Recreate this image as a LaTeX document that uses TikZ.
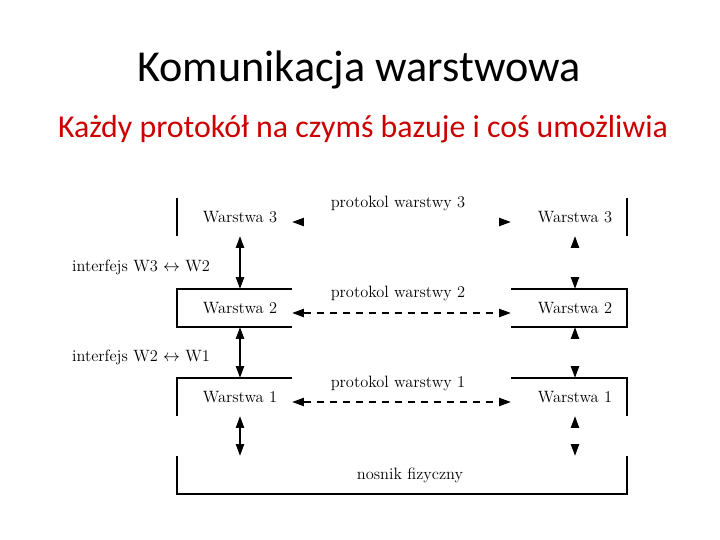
\documentclass[tikz,border=0pt]{standalone}
\usepackage{fontspec}
\newfontfamily\slidefont{Carlito}
\usetikzlibrary{arrows.meta,calc}
\definecolor{slidered}{RGB}{204,0,0}

\begin{document}
\begin{tikzpicture}[x=0.03cm, y=-0.03cm, >={Triangle[length=3.5mm,width=2.5mm]}, line cap=butt,
  layer/.style={inner sep=0pt, minimum height=1.14cm, font=\fontsize{14}{16}\selectfont},
  leftlayer/.style={layer, minimum width=3.12cm},
  rightlayer/.style={layer, minimum width=3.84cm},
  lbl/.style={inner sep=0pt, font=\fontsize{14}{16}\selectfont},
  edge/.style={line width=0.9pt},
  tipsonly/.style={line width=0.9pt, dash pattern=on 0pt off 30cm},
  protodash/.style={line width=0.9pt, dash pattern=on 0.21cm off 0.18cm}]

\useasboundingbox (0,0) rectangle (720,540);

% ---------- Slide title ----------
\node[anchor=base, font=\slidefont\fontsize{37.7}{45}\selectfont] (title) at (359,82) {Komunikacja warstwowa};
\node[anchor=base, text=slidered, font=\slidefont\fontsize{27.2}{33}\selectfont] (subtitle) at (363,138) {Każdy protokół na czymś bazuje i coś umożliwia};

% ---------- Layers ----------
\node[leftlayer] (L3) at (240,217) {Warstwa 3};
\node[leftlayer] (L2) at (240,308) {Warstwa 2};
\node[leftlayer] (L1) at (240,397) {Warstwa 1};

\node[rightlayer] (R3) at (575,217) {Warstwa 3};
\node[rightlayer] (R2) at (575,308) {Warstwa 2};
\node[rightlayer] (R1) at (575,397) {Warstwa 1};

\node[layer, minimum width=13.5cm] (N) at (410,475) {nosnik fizyczny};

% box outlines (open towards the middle)
\draw[edge] (177,198) -- (177,236);
\draw[edge] (627,198) -- (627,236);
\draw[edge] (292,289) -- (177,289) -- (177,327) -- (292,327);
\draw[edge] (511,289) -- (627,289) -- (627,327) -- (511,327);
\draw[edge] (292,378) -- (177,378) -- (177,416);
\draw[edge] (511,378) -- (627,378) -- (627,416);
\draw[edge] (177,456) -- (177,494) -- (627,494) -- (627,456);

% ---------- Protocols ----------
\node[lbl] (P3) at (398,203) {protokol warstwy 3};
\node[lbl] (P2) at (398,293) {protokol warstwy 2};
\node[lbl] (P1) at (398,383) {protokol warstwy 1};

\draw[tipsonly,<->] ([yshift=-0.15cm]L3.east) -- ([yshift=-0.15cm]R3.west);
\draw[protodash,<->] ([yshift=-0.15cm]L2.east) -- ([yshift=-0.15cm]R2.west);
\draw[protodash,<->] ([yshift=-0.15cm]L1.east) -- ([yshift=-0.15cm]R1.west);

% ---------- Interfaces ----------
\node[lbl] (I32) at (141,267) {interfejs W3 $\leftrightarrow$ W2};
\node[lbl] (I21) at (141,357) {interfejs W2 $\leftrightarrow$ W1};

\draw[edge,<->] (L3) -- (L2);
\draw[edge,<->] (L2) -- (L1);
\draw[edge,<->] (L1.south) -- (L1.south |- N.north);

\draw[tipsonly,<->] (R3) -- (R2);
\draw[tipsonly,<->] (R2) -- (R1);
\draw[tipsonly,<->] (R1.south) -- (R1.south |- N.north);

\end{tikzpicture}
\end{document}
